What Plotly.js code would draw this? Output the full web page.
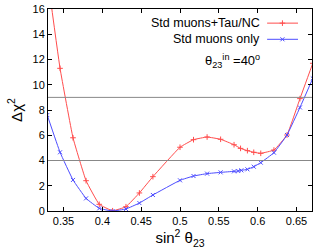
<!DOCTYPE html>
<html><head><meta charset="utf-8">
<script src="https://cdn.plot.ly/plotly-3.0.1.min.js"></script>
<style>html,body{margin:0;padding:0;background:#fff}#chart{width:332px;height:249px}</style>
</head><body><div id="chart"></div>
<script>
// sin^2(theta23) grid values and Delta chi^2
const redX = [0.329, 0.3455, 0.3622, 0.379, 0.396, 0.4132, 0.4304, 0.4477, 0.4651, 0.5, 0.5174, 0.5349, 0.5523, 0.5696, 0.578, 0.5868, 0.595, 0.604, 0.621, 0.6378, 0.6545, 0.671];
const redY = [18.7, 11.3, 5.8, 2.4, 0.53, 0.02, 0.34, 1.43, 2.72, 5.05, 5.65, 5.86, 5.68, 5.25, 4.96, 4.78, 4.65, 4.57, 4.83, 6.02, 8.9, 11.7];
const blueX = [0.329, 0.3455, 0.3622, 0.379, 0.396, 0.4132, 0.4304, 0.4477, 0.4651, 0.5, 0.5174, 0.5349, 0.5523, 0.5696, 0.575, 0.579, 0.5868, 0.595, 0.604, 0.621, 0.6378, 0.6545, 0.671];
const blueY = [7.6, 4.65, 2.46, 1.0, 0.21, 0.0, 0.16, 0.63, 1.27, 2.43, 2.77, 2.96, 3.06, 3.14, 3.17, 3.22, 3.30, 3.51, 3.83, 4.62, 6.02, 8.2, 10.5];
const seriesNames = ["Std muons+Tau/NC", "Std muons only"];
const refLevels = [4, 9];
const xTicks = [0.35, 0.4, 0.45, 0.5, 0.55, 0.6, 0.65];
const xTickText = ["0.35", "0.4", "0.45", "0.5", "0.55", "0.6", "0.65"];
const yTicks = [0, 2, 4, 6, 8, 10, 12, 14, 16];

const RED = "#ff4d4d", BLUE = "#4d4dff";
const font = {family: "Liberation Sans, Arial, sans-serif", color: "#000"};

const traces = [
  {x: redX, y: redY, mode: "lines+markers", name: seriesNames[0],
   line: {color: RED, width: 1, shape: "spline", smoothing: 0.3},
   marker: {symbol: "cross-thin", size: 4, color: RED, line: {color: RED, width: 1}}},
  {x: blueX, y: blueY, mode: "lines+markers", name: seriesNames[1],
   line: {color: BLUE, width: 1, shape: "spline", smoothing: 0.3},
   marker: {symbol: "x-thin", size: 4, color: BLUE, line: {color: BLUE, width: 1}}},
  // legend samples on an overlay axis in [0,1]
  {x: [0.83, 0.947], y: [0.93, 0.93], xaxis: "x2", yaxis: "y2", mode: "lines", showlegend: false, hoverinfo: "skip",
   line: {color: RED, width: 1}},
  {x: [0.888], y: [0.93], xaxis: "x2", yaxis: "y2", mode: "markers", showlegend: false, hoverinfo: "skip",
   marker: {symbol: "cross-thin", size: 4, line: {color: RED, width: 1}}},
  {x: [0.83, 0.947], y: [0.85, 0.85], xaxis: "x2", yaxis: "y2", mode: "lines", showlegend: false, hoverinfo: "skip",
   line: {color: BLUE, width: 1}},
  {x: [0.888], y: [0.85], xaxis: "x2", yaxis: "y2", mode: "markers", showlegend: false, hoverinfo: "skip",
   marker: {symbol: "x-thin", size: 4, line: {color: BLUE, width: 1}}}
];

const layout = {
  width: 332, height: 249,
  margin: {l: 48, r: 20, t: 9, b: 38},
  paper_bgcolor: "#fff", plot_bgcolor: "#fff",
  showlegend: false,
  font: Object.assign({size: 11}, font),
  xaxis: {range: [0.33, 0.67], tickvals: xTicks, ticktext: xTickText, ticks: "inside", ticklen: 4,
          tickcolor: "#000", showgrid: false, zeroline: false, showline: true, linecolor: "#000", linewidth: 1,
          mirror: "ticks", tickfont: Object.assign({size: 11}, font),
          title: {text: "sin<sup>2</sup> θ<sub>23</sub>", font: Object.assign({size: 15}, font), standoff: 0}},
  yaxis: {range: [0, 16], tickvals: yTicks, ticks: "inside", ticklen: 4,
          tickcolor: "#000", showgrid: false, zeroline: false, showline: true, linecolor: "#000", linewidth: 1,
          mirror: "ticks", tickfont: Object.assign({size: 11}, font),
          title: {text: "Δχ<sup>2</sup>", font: Object.assign({size: 15}, font), standoff: 6}},
  xaxis2: {range: [0, 1], overlaying: "x", visible: false, fixedrange: true},
  yaxis2: {range: [0, 1], overlaying: "y", visible: false, fixedrange: true},
  shapes: refLevels.map(v => ({type: "line", xref: "paper", x0: 0, x1: 1, yref: "y", y0: v, y1: v,
                               line: {color: "#888", width: 1}})),
  annotations: [
    {xref: "paper", yref: "paper", x: 0.81, y: 0.93, xanchor: "right", yanchor: "middle", showarrow: false,
     text: seriesNames[0], font: Object.assign({size: 12.5}, font)},
    {xref: "paper", yref: "paper", x: 0.81, y: 0.85, xanchor: "right", yanchor: "middle", showarrow: false,
     text: seriesNames[1], font: Object.assign({size: 12.5}, font)},
    {xref: "paper", yref: "paper", x: 0.81, y: 0.745, xanchor: "right", yanchor: "middle", showarrow: false,
     text: "θ<sub>23</sub><sup>in</sup> =40<sup>o</sup>", font: Object.assign({size: 13}, font)}
  ]
};

Plotly.newPlot("chart", traces, layout, {staticPlot: true, displayModeBar: false});
</script></body></html>
